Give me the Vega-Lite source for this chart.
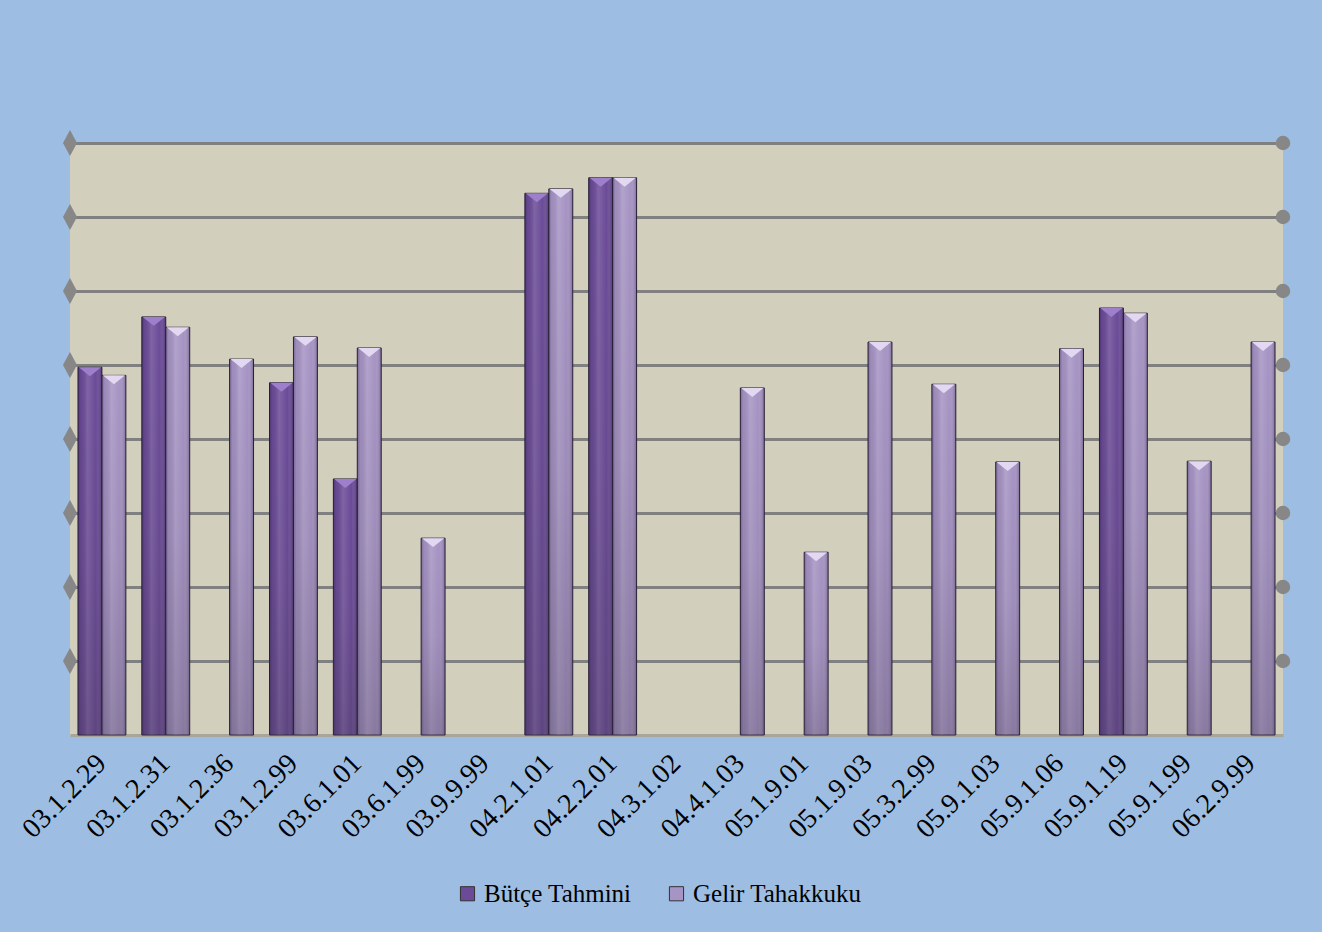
{
  "$schema": "https://vega.github.io/schema/vega-lite/v6.json",
  "width": 1213,
  "height": 592,
  "autosize": "none",
  "padding": {"left": 70, "top": 143, "right": 39, "bottom": 197},
  "background": "#9DBDE3",
  "config": {
    "view": {"fill": "#D2CFBD", "stroke": null},
    "font": "Liberation Serif"
  },
  "datasets": {
    "bars": [
      {"cat": "03.1.2.29", "s": "Bütçe Tahmini", "v": 4.97},
      {"cat": "03.1.2.29", "s": "Gelir Tahakkuku", "v": 4.86},
      {"cat": "03.1.2.31", "s": "Bütçe Tahmini", "v": 5.65},
      {"cat": "03.1.2.31", "s": "Gelir Tahakkuku", "v": 5.51},
      {"cat": "03.1.2.36", "s": "Gelir Tahakkuku", "v": 5.08},
      {"cat": "03.1.2.99", "s": "Bütçe Tahmini", "v": 4.76},
      {"cat": "03.1.2.99", "s": "Gelir Tahakkuku", "v": 5.38},
      {"cat": "03.6.1.01", "s": "Bütçe Tahmini", "v": 3.46},
      {"cat": "03.6.1.01", "s": "Gelir Tahakkuku", "v": 5.23},
      {"cat": "03.6.1.99", "s": "Gelir Tahakkuku", "v": 2.66},
      {"cat": "04.2.1.01", "s": "Bütçe Tahmini", "v": 7.32},
      {"cat": "04.2.1.01", "s": "Gelir Tahakkuku", "v": 7.38},
      {"cat": "04.2.2.01", "s": "Bütçe Tahmini", "v": 7.53},
      {"cat": "04.2.2.01", "s": "Gelir Tahakkuku", "v": 7.53},
      {"cat": "04.4.1.03", "s": "Gelir Tahakkuku", "v": 4.69},
      {"cat": "05.1.9.01", "s": "Gelir Tahakkuku", "v": 2.47},
      {"cat": "05.1.9.03", "s": "Gelir Tahakkuku", "v": 5.31},
      {"cat": "05.3.2.99", "s": "Gelir Tahakkuku", "v": 4.74},
      {"cat": "05.9.1.03", "s": "Gelir Tahakkuku", "v": 3.69},
      {"cat": "05.9.1.06", "s": "Gelir Tahakkuku", "v": 5.22},
      {"cat": "05.9.1.19", "s": "Bütçe Tahmini", "v": 5.77},
      {"cat": "05.9.1.19", "s": "Gelir Tahakkuku", "v": 5.70},
      {"cat": "05.9.1.99", "s": "Gelir Tahakkuku", "v": 3.70},
      {"cat": "06.2.9.99", "s": "Gelir Tahakkuku", "v": 5.31}
    ],
    "marks": [
      {"t": 1}, {"t": 2}, {"t": 3}, {"t": 4}, {"t": 5}, {"t": 6}, {"t": 7}, {"t": 8}
    ]
  },
  "layer": [
    {
      "data": {"name": "bars"},
      "mark": {"type": "bar", "stroke": "#2B2238", "strokeWidth": 1},
      "encoding": {
        "x": {
          "field": "cat", "type": "nominal", "sort": null,
          "scale": {
            "domain": ["03.1.2.29","03.1.2.31","03.1.2.36","03.1.2.99","03.6.1.01","03.6.1.99","03.9.9.99","04.2.1.01","04.2.2.01","04.3.1.02","04.4.1.03","05.1.9.01","05.1.9.03","05.3.2.99","05.9.1.03","05.9.1.06","05.9.1.19","05.9.1.99","06.2.9.99"],
            "paddingInner": 0.25, "paddingOuter": 0.125
          },
          "axis": {
            "title": null, "labelAngle": -45, "labelFontSize": 28, "labelColor": "black",
            "labelFont": "Liberation Serif", "domain": false, "ticks": false,
            "labelPadding": 24, "labelAlign": "right", "labelBaseline": "middle"
          }
        },
        "xOffset": {"field": "s", "type": "nominal", "scale": {"domain": ["Bütçe Tahmini", "Gelir Tahakkuku"]}},
        "y": {
          "field": "v", "type": "quantitative",
          "scale": {"domain": [0, 8], "nice": false},
          "axis": {
            "title": null, "labels": false, "ticks": false, "domain": false, "grid": true,
            "values": [0, 1, 2, 3, 4, 5, 6, 7, 8], "gridWidth": 3,
            "gridColor": {"condition": {"test": "datum.value === 0", "value": "#A8A69A"}, "value": "#808080"}
          }
        },
        "color": {
          "field": "s", "type": "nominal",
          "scale": {"domain": ["Bütçe Tahmini", "Gelir Tahakkuku"], "range": ["#6B4B98", "#A694C4"]},
          "legend": {
            "title": null, "orient": "none", "legendX": 385, "legendY": 738, "direction": "horizontal",
            "labelFontSize": 25, "labelFont": "Liberation Serif", "labelColor": "black",
            "symbolType": "square", "symbolSize": 200, "symbolStrokeColor": "#333333", "symbolStrokeWidth": 1,
            "symbolOpacity": 1, "columnPadding": 32, "labelOffset": 4, "labelLimit": 400
          }
        }
      }
    },
    {
      "data": {"name": "bars"},
      "mark": {
        "type": "bar",
        "fill": {"gradient": "linear", "x1": 0, "y1": 0, "x2": 1, "y2": 0,
          "stops": [
            {"offset": 0, "color": "rgba(20,10,40,0.30)"},
            {"offset": 0.12, "color": "rgba(20,10,40,0.05)"},
            {"offset": 0.4, "color": "rgba(255,255,255,0.14)"},
            {"offset": 0.75, "color": "rgba(255,255,255,0.0)"},
            {"offset": 1, "color": "rgba(20,10,40,0.30)"}
          ]}
      },
      "encoding": {
        "x": {"field": "cat", "type": "nominal", "sort": null},
        "xOffset": {"field": "s", "type": "nominal"},
        "y": {"field": "v", "type": "quantitative"}
      }
    },
    {
      "data": {"name": "bars"},
      "mark": {
        "type": "bar",
        "fill": {"gradient": "linear", "x1": 0, "y1": 0, "x2": 0, "y2": 1,
          "stops": [
            {"offset": 0, "color": "rgba(60,50,70,0.0)"},
            {"offset": 0.5, "color": "rgba(60,50,70,0.08)"},
            {"offset": 1, "color": "rgba(60,50,70,0.28)"}
          ]}
      },
      "encoding": {
        "x": {"field": "cat", "type": "nominal", "sort": null},
        "xOffset": {"field": "s", "type": "nominal"},
        "y": {"field": "v", "type": "quantitative"}
      }
    },
    {
      "data": {"name": "bars"},
      "mark": {"type": "point", "filled": true, "opacity": 1, "shape": "M-1,0L1,0L0,0.8Z", "size": 500, "strokeWidth": 0},
      "encoding": {
        "x": {"field": "cat", "type": "nominal", "sort": null},
        "xOffset": {"field": "s", "type": "nominal"},
        "y": {"field": "v", "type": "quantitative"},
        "fill": {
          "field": "s", "type": "nominal", "legend": null,
          "scale": {"domain": ["Bütçe Tahmini", "Gelir Tahakkuku"], "range": ["#9E7FCC", "#E3D8F2"]}
        }
      }
    },
    {
      "data": {"name": "marks"},
      "mark": {"type": "point", "filled": true, "opacity": 1, "shape": "M0,-1L0.54,0L0,1L-0.54,0Z", "size": 676, "color": "#878787"},
      "encoding": {
        "x": {"value": 0},
        "y": {"field": "t", "type": "quantitative"}
      }
    },
    {
      "data": {"name": "marks"},
      "mark": {"type": "point", "filled": true, "opacity": 1, "shape": "circle", "size": 210, "color": "#878787"},
      "encoding": {
        "x": {"value": "width"},
        "y": {"field": "t", "type": "quantitative"}
      }
    }
  ]
}
